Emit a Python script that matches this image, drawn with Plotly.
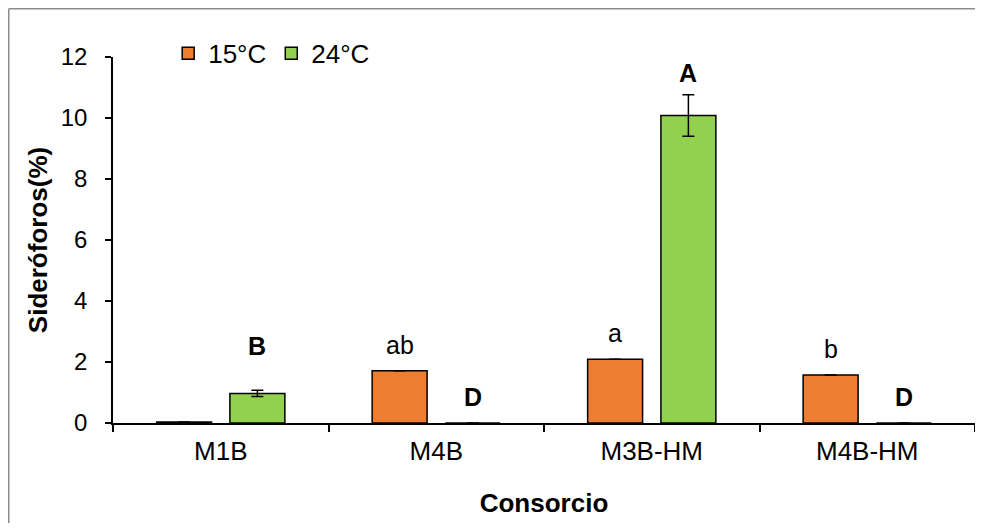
import plotly.graph_objects as go

categories = ["M1B", "M4B", "M3B-HM", "M4B-HM"]
series_names = ["15°C", "24°C"]
vals_15 = [0.03, 1.71, 2.09, 1.57]
err_15 = [0.0, 0.0, 0.0, 0.0]
vals_24 = [0.97, 0.0, 10.08, 0.0]
err_24 = [0.1, 0.0, 0.68, 0.0]
labels_15 = ["", "ab", "a", "b"]
labels_24 = ["B", "D", "A", "D"]
y_ticks = [0, 2, 4, 6, 8, 10, 12]

FONT = "Liberation Sans, Arial, sans-serif"
ORANGE = "#ED7D31"
GREEN = "#92D050"

# the page body has an 8px margin, so the figure is sized to fit inside it
W, H = 967, 515
L, R, T, B = 105, 0, 49, 100
PW, PH = W - L - R, H - T - B

fig = go.Figure()
for name, vals, errs, color in [(series_names[0], vals_15, err_15, ORANGE),
                                (series_names[1], vals_24, err_24, GREEN)]:
    fig.add_trace(go.Bar(
        x=categories, y=vals, name=name,
        marker=dict(color=color, line=dict(color="black", width=1.5)),
        error_y=dict(type="data", array=errs, visible=True, color="black",
                     thickness=1.5, width=6),
    ))

# significance letters
annotations = []
for vals, errs, labels, xs, bold in [(vals_15, err_15, labels_15, -0.17, False),
                                     (vals_24, err_24, labels_24, 0.17, True)]:
    for i, (v, e, t) in enumerate(zip(vals, errs, labels)):
        if not t:
            continue
        shift = 10
        if bold and i == 0:
            shift = 28
        elif bold and v > 5:
            shift = 6
        annotations.append(dict(
            x=i + xs, y=v + e, xref="x", yref="y", text=f"<b>{t}</b>" if bold else t,
            showarrow=False, yanchor="bottom", yshift=shift,
            font=dict(family=FONT, size=25, color="black"),
        ))

bx = (0.75 - L) / PW
by = 1 + (T - 0.75) / PH
border = dict(color="#8C8C8C", width=1.5)

fig.update_layout(
    width=W, height=H,
    margin=dict(l=L, r=R, t=T, b=B, autoexpand=False),
    paper_bgcolor="white", plot_bgcolor="white",
    barmode="group", bargap=0.32, bargroupgap=0.25,
    font=dict(family=FONT, size=25, color="black"),
    showlegend=True,
    legend=dict(orientation="h", x=0.064, y=1.01, xanchor="left", yanchor="middle",
                font=dict(family=FONT, size=26, color="black"),
                bgcolor="rgba(0,0,0,0)", itemwidth=30),
    annotations=annotations,
    shapes=[
        dict(type="line", xref="paper", yref="paper", x0=bx, x1=1.0, y0=by, y1=by,
             line=border, layer="below"),
        dict(type="line", xref="paper", yref="paper", x0=bx, x1=bx, y0=-0.4, y1=by,
             line=border, layer="below"),
    ],
)
fig.update_xaxes(
    type="category", showline=True, linecolor="black", linewidth=1.5, automargin=False,
    ticks="outside", tickson="boundaries", ticklen=7, tickcolor="black", tickwidth=1.5,
    showgrid=False, tickfont=dict(family=FONT, size=26, color="black"), ticklabelstandoff=4,
    title=dict(text="<b>Consorcio</b>", font=dict(family=FONT, size=26, color="black"), standoff=29),
)
fig.update_yaxes(
    range=[0, 12], tickvals=y_ticks, showline=True, linecolor="black", linewidth=1.5,
    automargin=False,
    ticks="outside", ticklen=6, tickcolor="black", tickwidth=1.5, showgrid=False,
    zeroline=False, tickfont=dict(family=FONT, size=24, color="black"), ticklabelstandoff=13,
    title=dict(text="<b>Sideróforos(%)</b>", font=dict(family=FONT, size=26, color="black"), standoff=6),
)

fig.write_html("out.html")
